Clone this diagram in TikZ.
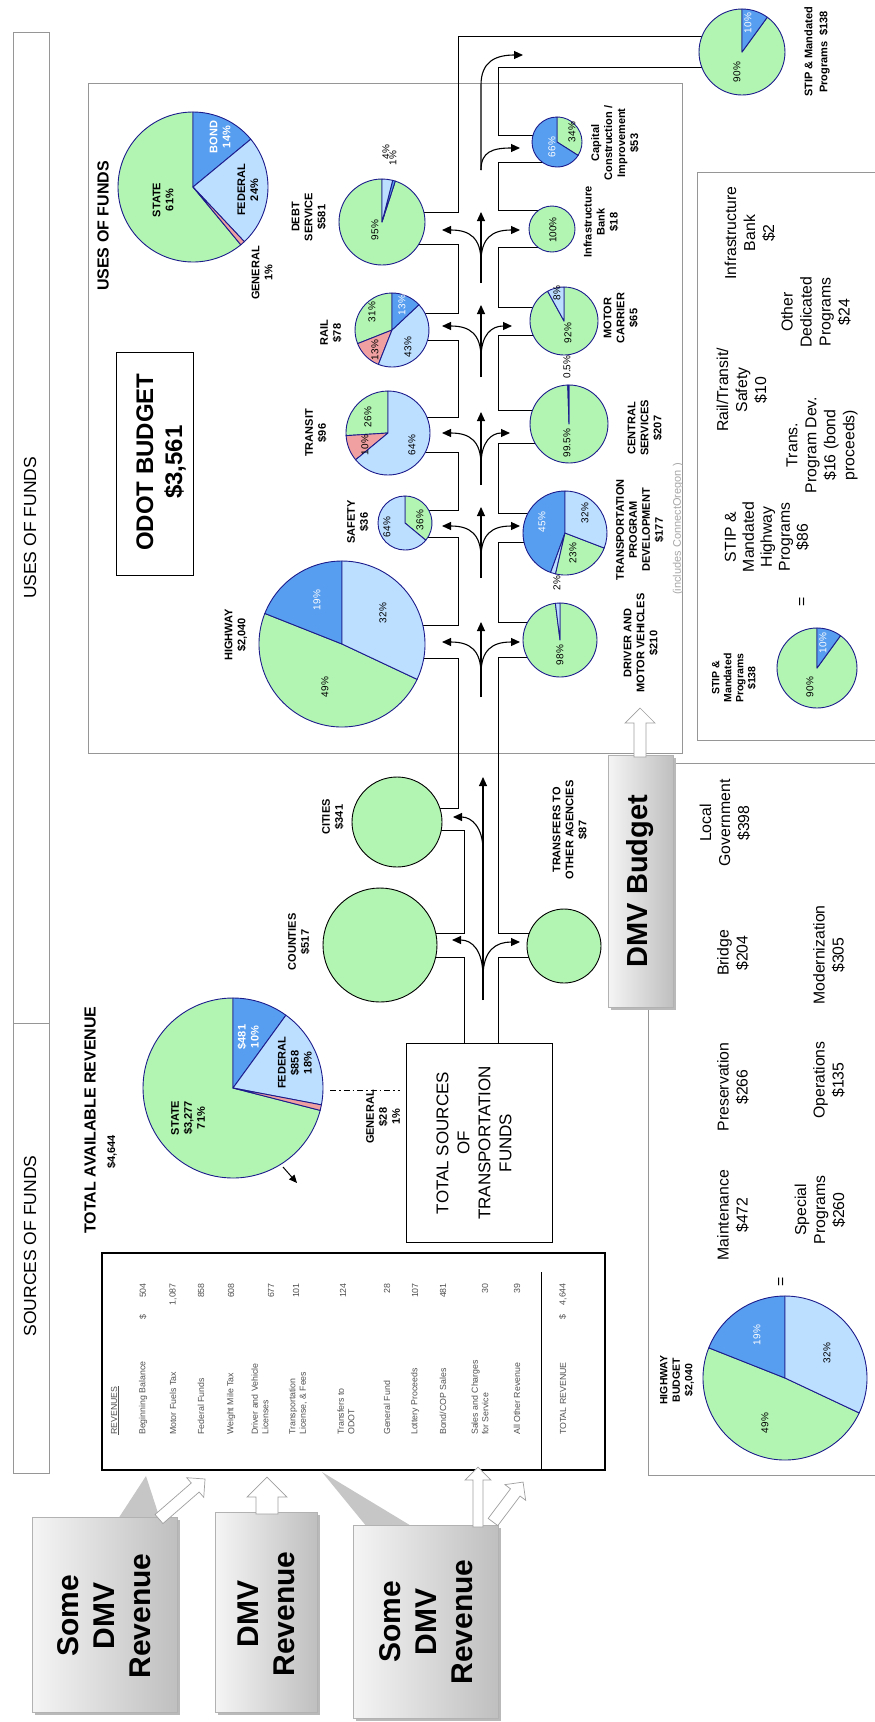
\documentclass[tikz,border=0pt]{standalone}
\usepackage{fontspec}
\setmainfont{Liberation Sans}
\usetikzlibrary{arrows.meta,calc}

\definecolor{piegreen}{RGB}{178,245,178}
\definecolor{pielight}{RGB}{188,222,255}
\definecolor{piedark}{RGB}{88,158,240}
\definecolor{piepink}{RGB}{240,160,160}
\definecolor{pieline}{RGB}{28,28,140}
\definecolor{framegray}{RGB}{150,150,150}
\definecolor{tabletext}{RGB}{80,80,80}

% one wedge of a pie: centre, radius, start, end, colour
\newcommand{\piewedge}[5]{%
  \filldraw[fill=#5, draw=pieline, line width=0.9pt, line join=round]
    (#1) -- ++(#3:#2) arc[start angle=#3, end angle=#4, radius=#2] -- cycle;}

% white block arrow: start x, start y, angle, length, shaft half, head half
\newcommand{\blockarrow}[6]{%
  \begin{scope}[shift={(#1,#2)}, rotate=#3]
    \filldraw[fill=white, draw=gray!75, line width=0.7pt]
      (0,-#5) -- (#4-#6,-#5) -- (#4-#6,-#6) -- (#4,0) -- (#4-#6,#6) -- (#4-#6,#5) -- (0,#5) -- cycle;
  \end{scope}}

\begin{document}
\begin{tikzpicture}[x=1pt, y=1pt,
  every node/.append style={rotate=90},
  pipe/.style={line width=0.9pt},
  flow/.style={line width=1.1pt, -{Triangle[length=9pt,width=8pt]}},
  grayframe/.style={draw=framegray, line width=0.9pt},
  piename/.style={font=\fontsize{11}{13}\selectfont\bfseries, align=center, inner sep=0pt},
  pct/.style={font=\fontsize{10}{11}\selectfont, inner sep=0pt},
  pctw/.style={pct, text=white},
  header/.style={font=\fontsize{17.5}{20}\selectfont, inner sep=0pt},
  tabrow/.style={font=\fontsize{8.8}{10.5}\selectfont, text=tabletext, align=left, anchor=west, inner sep=0pt},
  tabval/.style={font=\fontsize{8.8}{10.5}\selectfont, text=tabletext, anchor=east, inner sep=0pt},
  dmvtext/.style={font=\fontsize{30}{36}\selectfont\bfseries, align=center, inner sep=0pt},
  budget/.style={font=\fontsize{15.8}{19}\selectfont, align=center, inner sep=0pt},
  dmvbox/.style={left color=gray!8, right color=gray!50, draw=gray!60, line width=0.6pt}]

  \useasboundingbox (0,0) rectangle (875,-1722);

  % Header strip
  \draw[grayframe] (13,-32) rectangle (49,-1473);
  \draw[grayframe] (13,-1023) -- (49,-1023);
  \node[header] (usesHead) at (30,-528) {USES OF FUNDS};
  \node[header] (srcHead) at (30,-1246) {SOURCES OF FUNDS};

  % Frames
  \draw[grayframe] (88,-83) rectangle (682,-753);
  \draw[grayframe] (880,-172) -- (697,-172) -- (697,-740) -- (880,-740);
  \draw[grayframe] (880,-763) -- (648,-763) -- (648,-1475) -- (880,-1475);

  % Define points (pie centres)
  \coordinate (uses) at (193,-187);
  \coordinate (rev) at (233,-1088);
  \coordinate (hwy) at (342,-644);
  \coordinate (safety) at (405,-523);
  \coordinate (transit) at (388,-433);
  \coordinate (rail) at (392,-330);
  \coordinate (debt) at (382,-222);
  \coordinate (driver) at (560,-640);
  \coordinate (tpd) at (565,-533);
  \coordinate (central) at (569,-424);
  \coordinate (motor) at (564,-321);
  \coordinate (infra) at (552,-229);
  \coordinate (capcon) at (557,-142);
  \coordinate (stipTop) at (742,-52);
  \coordinate (stipBox) at (817,-668);
  \coordinate (hwyBud) at (785,-1378);
  \coordinate (cities) at (397,-822);
  \coordinate (counties) at (380,-945);
  \coordinate (xfers) at (564,-946);

  % Left wall of the channel
  \draw[pipe] (742,-36) -- (458,-36) -- (458,-212) -- (382,-212);
  \draw[pipe] (382,-244) -- (458,-244) -- (458,-313) -- (392,-313);
  \draw[pipe] (392,-340) -- (458,-340) -- (458,-417) -- (388,-417);
  \draw[pipe] (388,-452) -- (458,-452) -- (458,-510) -- (405,-510);
  \draw[pipe] (405,-537) -- (458,-537) -- (458,-625) -- (342,-625);
  \draw[pipe] (342,-658) -- (458,-658) -- (458,-808) -- (397,-808);
  \draw[pipe] (397,-830) -- (464,-830) -- (464,-933) -- (380,-933);
  \draw[pipe] (380,-957) -- (464,-957) -- (464,-1043);
  % Right wall of the channel
  \draw[pipe] (742,-67) -- (498,-67) -- (498,-135) -- (557,-135);
  \draw[pipe] (557,-162) -- (498,-162) -- (498,-210) -- (552,-210);
  \draw[pipe] (552,-247) -- (498,-247) -- (498,-307) -- (564,-307);
  \draw[pipe] (564,-335) -- (498,-335) -- (498,-410) -- (569,-410);
  \draw[pipe] (569,-443) -- (498,-443) -- (498,-513) -- (565,-513);
  \draw[pipe] (565,-542) -- (498,-542) -- (498,-622) -- (560,-622);
  \draw[pipe] (560,-657) -- (498,-657) -- (498,-933) -- (564,-933);
  \draw[pipe] (564,-957) -- (498,-957) -- (498,-1043);

  % Tridents in the channel
  \foreach \yb/\yt/\ys/\xr in {283/212/230/520, 377/305/326/512, 485/412/433/510, 578/507/526/520, 697/622/642/520} {
    \draw[flow] (481,-\yb) -- (481,-\yt);
    \draw[flow] (481,-\ys-32) .. controls (481,-\ys-8) and (470,-\ys) .. (442,-\ys);
    \draw[flow] (481,-\ys-32) .. controls (481,-\ys-8) and (492,-\ys) .. (\xr,-\ys);
  }
  \draw[flow] (481,-170) -- (481,-85) .. controls (481,-62) and (495,-55) .. (523,-55);
  \draw[flow] (481,-170) .. controls (481,-152) and (492,-148) .. (520,-148);
  \draw[flow] (483,-1000) -- (483,-777);
  \draw[flow] (483,-977) .. controls (483,-950) and (472,-940) .. (452,-940);
  \draw[flow] (483,-977) .. controls (483,-950) and (496,-942) .. (520,-942);
  \draw[flow] (483,-850) .. controls (483,-828) and (472,-817) .. (453,-817);

  % Pies
  \foreach \c/\r/\a/\b/\col in {
      uses/75/90/309.6/piegreen, uses/75/39.6/90/piedark, uses/75/-46.8/39.6/pielight, uses/75/-50.4/-46.8/piepink,
      rev/90/90/345.6/piegreen, rev/90/54/90/piedark, rev/90/-10.8/54/pielight, rev/90/-14.4/-10.8/piepink,
      hwy/83/158.4/334.8/piegreen, hwy/83/90/158.4/piedark, hwy/83/-25.2/90/pielight,
      hwyBud/82/158.4/334.8/piegreen, hwyBud/82/90/158.4/piedark, hwyBud/82/-25.2/90/pielight,
      safety/27/-39.6/90/piegreen, safety/27/90/320.4/pielight,
      transit/42/90/183.6/piegreen, transit/42/183.6/219.6/piepink, transit/42/219.6/450/pielight,
      rail/37/90/201.6/piegreen, rail/37/201.6/248.4/piepink, rail/37/248.4/403.2/pielight, rail/37/43.2/90/piedark,
      debt/43/90/432/piegreen, debt/43/72/75.6/piedark, debt/43/75.6/90/pielight,
      driver/37/97.2/450/piegreen, driver/37/90/97.2/pielight,
      tpd/42/90/250/piedark, tpd/42/250/257/pielight, tpd/42/257/339/piegreen, tpd/42/-21/90/pielight,
      central/39/91.8/450/piegreen, central/39/90/91.8/piedark,
      motor/34/118.8/450/piegreen, motor/34/90/118.8/pielight,
      capcon/25/-32.4/90/piegreen, capcon/25/90/327.6/piedark,
      stipTop/43/90/414/piegreen, stipTop/43/54/90/piedark,
      stipBox/40/90/414/piegreen, stipBox/40/54/90/piedark}
    \piewedge{\c}{\r}{\a}{\b}{\col};
  \filldraw[fill=piegreen, draw=pieline, line width=0.9pt] (infra) circle (23);
  \filldraw[fill=piegreen, draw=black, line width=0.9pt] (cities) circle (45);
  \filldraw[fill=piegreen, draw=black, line width=0.9pt] (counties) circle (57);
  \filldraw[fill=piegreen, draw=black, line width=0.9pt] (xfers) circle (37);

  % Percent labels
  \foreach \x/\y/\t in {375/230/95, 386/152/4, 393/158/1, 372/312/31, 408/347/43, 375/350/13,
      368/417/26, 365/445/10, 412/445/64, 387/527/64, 420/520/36, 383/613/32, 325/687/49,
      560/655/98, 573/553/23, 585/513/32, 557/583/2, 567/443/99.5, 567/367/0.5,
      568/333/92, 557/293/8, 553/230/100, 572/132/34, 737/72/90, 810/687/90,
      827/1353/32, 765/1423/49}
    \node[pct] at (\x,-\y) {\t\%};
  \foreach \x/\y/\t in {402/305/13, 317/600/19, 542/522/45, 552/147/66, 748/23/10, 823/643/10, 757/1335/19}
    \node[pctw] at (\x,-\y) {\t\%};

  % Pie names
  \node[piename] (usesTitle) at (103,-226) {\fontsize{16}{18}\selectfont USES OF FUNDS};
  \node[piename] (usesState) at (163,-200) {STATE\\61\%};
  \node[piename, text=white] (usesBond) at (220,-137) {BOND\\14\%};
  \node[piename] (usesFed) at (248,-190) {FEDERAL\\24\%};
  \node[piename] (usesGen) at (262,-273) {GENERAL\\1\%};
  \node[piename] (debtLbl) at (309,-217) {DEBT\\SERVICE\\\$581};
  \node[piename] (railLbl) at (331,-333) {RAIL\\\$78};
  \node[piename] (transitLbl) at (316,-433) {TRANSIT\\\$96};
  \node[piename] (safetyLbl) at (358,-522) {SAFETY\\\$36};
  \node[piename] (hwyLbl) at (236,-635) {HIGHWAY\\\$2,040};
  \node[piename] (citiesLbl) at (333,-817) {CITIES\\\$341};
  \node[piename] (countiesLbl) at (299,-942) {COUNTIES\\\$517};
  \node[piename] (xfersLbl) at (570,-830) {TRANSFERS TO\\OTHER AGENCIES\\\$87};
  \node[piename] (driverLbl) at (641,-643) {DRIVER AND\\MOTOR VEHICLES\\\$210};
  \node[piename] (tpdLbl) at (640,-530) {TRANSPORTATION\\PROGRAM\\DEVELOPMENT\\\$177};
  \node[font=\fontsize{11}{13}\selectfont, text=gray!70, inner sep=0pt] (tpdNote) at (678,-529) {(includes ConnectOregon )};
  \node[piename] (centralLbl) at (645,-428) {CENTRAL\\SERVICES\\\$207};
  \node[piename] (motorLbl) at (621,-318) {MOTOR\\CARRIER\\\$65};
  \node[piename] (infraLbl) at (601,-222) {Infrastructure\\Bank\\\$18};
  \node[piename] (capconLbl) at (615,-143) {Capital\\Construction /\\Improvement\\\$53};
  \node[piename, font=\fontsize{11}{15}\selectfont\bfseries] (stipTopLbl) at (817,-52) {STIP \& Mandated\\Programs \ \$138};
  \node[piename, font=\fontsize{10.5}{12}\selectfont\bfseries] (stipBoxLbl) at (734,-678) {STIP \&\\Mandated\\Programs\\\$138};
  \node[piename, font=\fontsize{10.5}{12.5}\selectfont\bfseries] (hwyBudLbl) at (677,-1380) {HIGHWAY\\BUDGET\\\$2,040};

  % Revenue pie labels
  \node[piename, font=\fontsize{16}{18}\selectfont\bfseries] (revTitle) at (90,-1120) {TOTAL AVAILABLE REVENUE};
  \node[piename] (revTotal) at (112,-1152) {\$4,644};
  \node[piename] (revState) at (188,-1118) {STATE\\\$3,277\\71\%};
  \node[piename, text=white] (revBond) at (248,-1037) {\$481\\10\%};
  \node[piename] (revFed) at (295,-1063) {FEDERAL\\\$858\\18\%};
  \node[piename] (revGen) at (383,-1117) {GENERAL\\\$28\\1\%};
  \draw[line width=1pt, dash pattern=on 6pt off 3pt on 1.5pt off 3pt] (330,-1090) -- (400,-1090);
  \draw[line width=1pt, -{Triangle[length=8pt,width=7pt]}] (283,-1167) -- (297,-1183);

  % ODOT budget box
  \draw[line width=1pt] (116,-352) rectangle (193,-575);
  \node[font=\fontsize{24}{29}\selectfont\bfseries, align=center, inner sep=0pt] (odot) at (161,-462) {ODOT BUDGET\\\$3,561};

  % Total sources box
  \draw[line width=1pt] (406,-1043) rectangle (552,-1242);
  \node[font=\fontsize{17}{21}\selectfont, align=center, inner sep=0pt] (totalSrc) at (474,-1143) {TOTAL SOURCES\\OF\\TRANSPORTATION\\FUNDS};

  % Revenue table
  \draw[line width=1.1pt] (102,-1253) rectangle (605,-1470);
  \draw[line width=1pt] (541,-1272) -- (541,-1470);
  \node[tabrow] (revHead) at (115,-1435) {\underline{REVENUES}};
  \foreach \x/\lab/\vx/\val in {143/{Beginning Balance}/143/{\$\hspace{17pt}504},
      173/{Motor Fuels Tax}/173/{1,087}, 201/{Federal Funds}/201/{858},
      231/{Weight Mile Tax}/231/{608}, 260/{Driver and Vehicle\\Licenses}/271/{677},
      298/{Transportation\\License,\ \& Fees}/296/{101}, 346/{Transfers to\\ODOT}/343/{124},
      387/{General Fund}/387/{28}, 415/{Lottery Proceeds}/415/{107},
      443/{Bond/COP Sales}/443/{481}, 480/{Sales and Charges\\for Service}/485/{30},
      517/{All Other Revenue}/517/{39}, 563/{TOTAL REVENUE}/563/{\$\hspace{9pt}4,644}} {
    \node[tabrow] at (\x,-1435) {\lab};
    \node[tabval] at (\vx,-1283) {\val};
  }

  % STIP box contents
  \node[budget] (eqStip) at (803,-602) {=};
  \node[budget, font=\fontsize{15.8}{18}\selectfont] (stipHwy) at (767,-537) {STIP \&\\Mandated\\Highway\\Programs\\\$86};
  \node[budget] (transDev) at (822,-445) {Trans.\\Program Dev.\\\$16 (bond\\proceeds)};
  \node[budget] (railSafe) at (742,-390) {Rail/Transit/\\Safety\\\$10};
  \node[budget] (otherDed) at (816,-312) {Other\\Dedicated\\Programs\\\$24};
  \node[budget] (infraBank) at (750,-233) {Infrastructure\\Bank\\\$2};

  % Highway budget box contents
  \node[budget] (eqHwy) at (782,-1282) {=};
  \node[budget] (maint) at (733,-1215) {Maintenance\\\$472};
  \node[budget] (preserv) at (733,-1087) {Preservation\\\$266};
  \node[budget] (bridge) at (733,-953) {Bridge\\\$204};
  \node[budget] (localGov) at (725,-823) {Local\\Government\\\$398};
  \node[budget] (special) at (820,-1210) {Special\\Programs\\\$260};
  \node[budget] (oper) at (829,-1080) {Operations\\\$135};
  \node[budget] (modern) at (829,-955) {Modernization\\\$305};

  % DMV budget box
  \fill[gray!55] (611,-758) rectangle (676,-1010);
  \shade[dmvbox] (608,-755) rectangle (673,-1007);
  \node[font=\fontsize{29}{34}\selectfont\bfseries, inner sep=0pt] (dmvBudget) at (640.5,-881) {DMV Budget};
  \blockarrow{640}{-757}{90}{49}{6}{15}

  % DMV revenue boxes
  \fill[gray!45] (118,-1519) -- (146,-1476) -- (160,-1519) -- cycle;
  \fill[gray!45] (367,-1527) -- (322,-1472) -- (413,-1527) -- cycle;
  \foreach \xa/\ya/\xb/\yb in {32/1517/177/1712, 215/1512/317/1712, 353/1525/498/1718} {
    \fill[gray!55] (\xa+3,-\ya-3) rectangle (\xb+3,-\yb-3);
    \shade[dmvbox] (\xa,-\ya) rectangle (\xb,-\yb);
  }
  \node[dmvtext] (dmvRev1) at (104,-1616) {Some\\DMV\\Revenue};
  \node[dmvtext] (dmvRev2) at (266,-1614) {DMV\\Revenue};
  \node[dmvtext] (dmvRev3) at (426,-1622) {Some\\DMV\\Revenue};
  \blockarrow{159}{-1519}{41}{61}{6}{13}
  \blockarrow{267}{-1514}{90}{37}{11}{20}
  \blockarrow{478}{-1527}{90}{60}{5}{13}
  \blockarrow{493}{-1522}{53}{50}{6}{13}

\end{tikzpicture}
\end{document}
